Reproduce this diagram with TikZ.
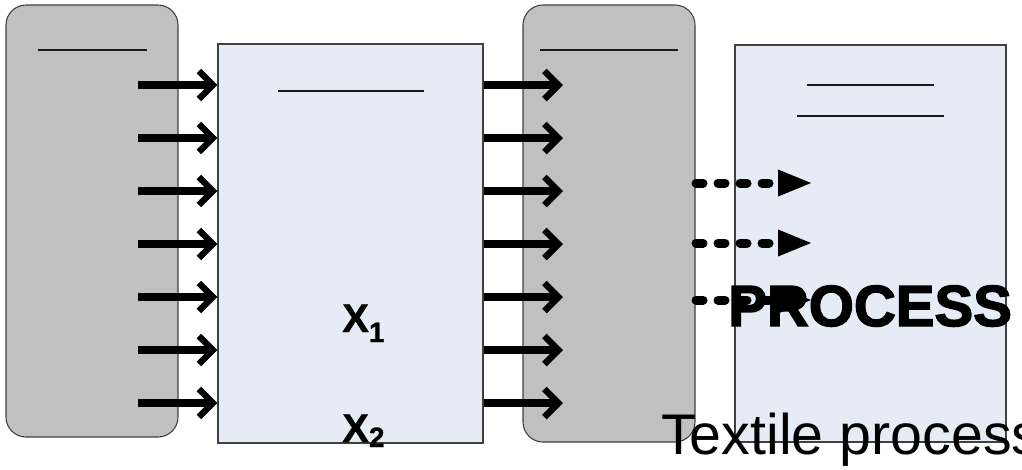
\documentclass[tikz,border=0pt]{standalone}
\usepackage{fontspec}
\setmainfont{Liberation Sans}
\newfontfamily\heavyfont[FakeBold=2.5]{Liberation Sans Bold}
\newfontfamily\xfont[FakeBold=0.8]{Liberation Sans Bold}
\usetikzlibrary{arrows.meta}
\definecolor{boxgray}{RGB}{192,192,192}
\definecolor{boxblue}{RGB}{230,236,246}
\definecolor{edgegray}{RGB}{64,64,64}
\tikzset{
  graybox/.style={draw=edgegray, line width=0.8pt, fill=boxgray, rounded corners=15pt, inner sep=0pt},
  bluebox/.style={draw=edgegray, line width=0.8pt, fill=boxblue, inner sep=0pt},
  rule/.style={draw=black!90, line width=1.1pt},
  solidarrow/.style={line width=6pt, -{Straight Barb[length=10.5pt,width=21pt,line width=4.8pt]}},
  dasharrow/.style={line width=6.75pt, line cap=round, dash pattern=on 5.25pt off 11.25pt, -{Triangle[length=26.25pt,width=18pt]}},
  bigbold/.style={inner sep=0pt, font=\fontsize{43.5pt}{45pt}\heavyfont},
  bigtext/.style={inner sep=0pt, font=\fontsize{43pt}{45pt}\selectfont},
  xlabel/.style={inner sep=0pt, font=\fontsize{30pt}{32pt}\xfont}
}
\begin{document}
\begin{tikzpicture}[x=0.75pt, y=-0.75pt]
\useasboundingbox (0,0) rectangle (1022,469);
\clip (0,0) rectangle (1022,469);
% boxes
\node[graybox, minimum width=129pt, minimum height=324pt] (g1) at (92,221) {};
\node[bluebox, minimum width=198.75pt, minimum height=299.25pt] (b1) at (350.5,243.5) {};
\node[graybox, minimum width=129pt, minimum height=327.75pt] (g2) at (609,223.5) {};
\node[bluebox, minimum width=203.25pt, minimum height=297.75pt] (b2) at (870.5,243.5) {};
% rules inside boxes
\draw[rule] (38,50) -- (147,50);
\draw[rule] (278,91) -- (424,91);
\draw[rule] (540,50) -- (678,50);
\draw[rule] (807,85) -- (934,85);
\draw[rule] (797,116) -- (944,116);
% solid arrows
\foreach \y [count=\i] in {85,138,191,244,297,350,403} {
  \coordinate (s\i) at (138,\y);
  \coordinate (t\i) at (563,\y);
  \draw[solidarrow] (s\i) -- (b1.west |- s\i);
  \draw[solidarrow] (b1.east |- t\i) -- (t\i);
}
% dashed arrows
\foreach \y [count=\i] in {183,243,300} {
  \coordinate (ds\i) at (696,\y);
  \coordinate (de\i) at (813,\y);
  \draw[dasharrow] (ds\i) -- (de\i);
}
% labels
\node[xlabel, anchor=base west] (x1) at (342,332) {X\raisebox{-7.5pt}{\fontsize{21pt}{22pt}\selectfont 1}};
\node[xlabel, anchor=base west] (x2) at (342,442) {X\raisebox{-3.75pt}{\fontsize{21pt}{22pt}\selectfont 2}};
\node[bigbold, anchor=base west] (proc) at (728,326) {PROCESS};
\node[bigtext, anchor=base west] (tex) at (661,454) {Textile process};
\end{tikzpicture}
\end{document}
